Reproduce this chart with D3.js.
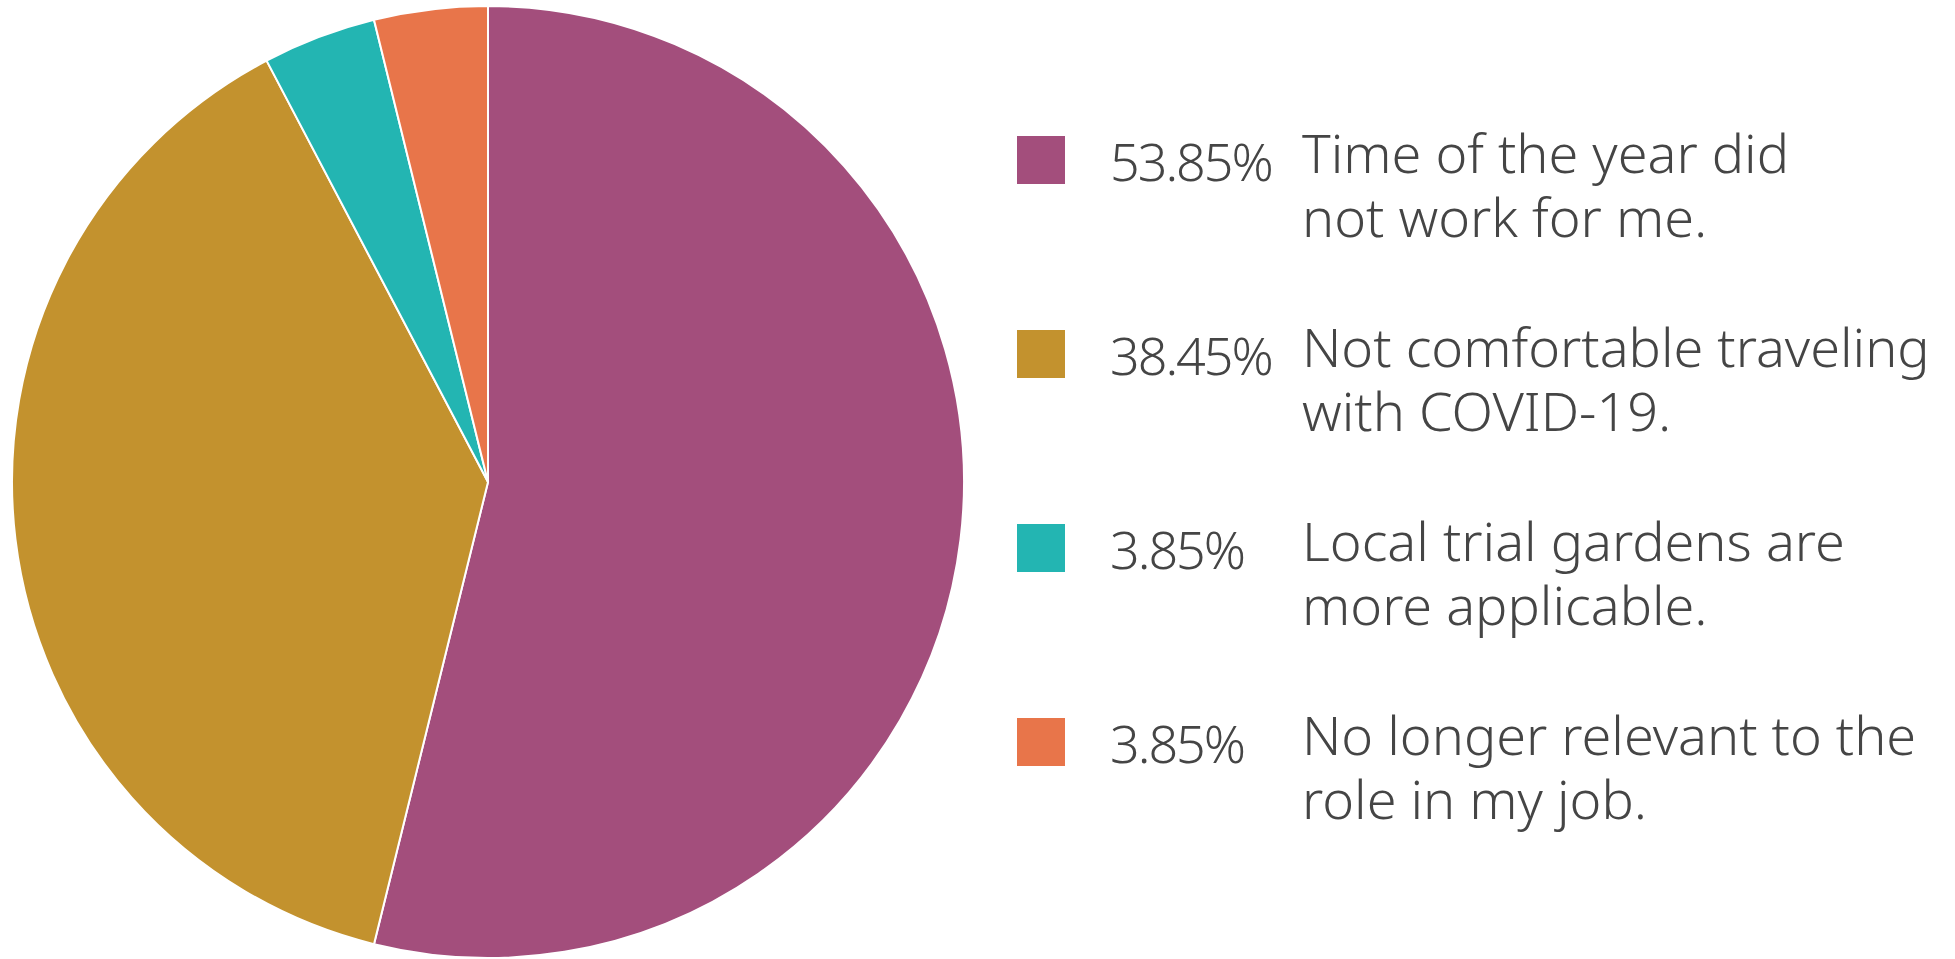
<!DOCTYPE html>
<html><head><meta charset="utf-8">
<script src="https://cdn.jsdelivr.net/npm/d3@7"></script>
<style>body{margin:0;background:#fff}</style>
</head><body>
<svg id="c" width="1955" height="959"></svg>
<script>
// Data
const categories = ["Time of the year did not work for me.",
                    "Not comfortable traveling with COVID-19.",
                    "Local trial gardens are more applicable.",
                    "No longer relevant to the role in my job."];
const labelLines = [["Time of the year did","not work for me."],
                    ["Not comfortable traveling","with COVID-19."],
                    ["Local trial gardens are","more applicable."],
                    ["No longer relevant to the","role in my job."]];
const values = [53.85, 38.45, 3.85, 3.85];
const pctLabels = ["53.85%", "38.45%", "3.85%", "3.85%"];
const colors = ["#A34E7C", "#C3922E", "#23B5B2", "#E8754A"];

const W = 1955, H = 959;
const svg = d3.select("#c");
const cx = 488, cy = 482, R = 476;

const pie = d3.pie().sort(null).value(d => d);
const arc = d3.arc().innerRadius(0).outerRadius(R);
const color = d3.scaleOrdinal().domain(d3.range(values.length)).range(colors);

svg.append("g").attr("transform", `translate(${cx},${cy})`)
  .selectAll("path").data(pie(values)).join("path")
  .attr("d", arc)
  .attr("fill", (d, i) => color(i))
  .attr("stroke", "#fff").attr("stroke-width", 2).attr("stroke-linejoin", "round");

// Legend
const rowY = d3.scaleLinear().domain([0, 1]).range([173, 367]); // baseline of first label line per row
const lineH = 64;
const font = "'Noto Sans', 'Open Sans', sans-serif";
const textCol = "#454545";

const rows = svg.append("g").selectAll("g").data(values).join("g")
  .attr("transform", (d, i) => `translate(0,${rowY(i)})`);

rows.append("rect")
  .attr("x", 1017).attr("y", -37).attr("width", 48).attr("height", 48)
  .attr("fill", (d, i) => color(i));

rows.append("text")
  .attr("x", 1110).attr("y", 8)
  .style("font-family", font).style("font-weight", 300).style("font-size", "52px")
  .style("letter-spacing", "-2px")
  .attr("fill", textCol)
  .text((d, i) => pctLabels[i]);

rows.selectAll("text.lbl").data((d, i) => labelLines[i]).join("text")
  .attr("class", "lbl")
  .attr("x", 1302).attr("y", (d, j) => j * lineH)
  .style("font-family", font).style("font-weight", 300).style("font-size", "54px")
  .attr("fill", textCol)
  .text(d => d);
</script>
</body></html>
